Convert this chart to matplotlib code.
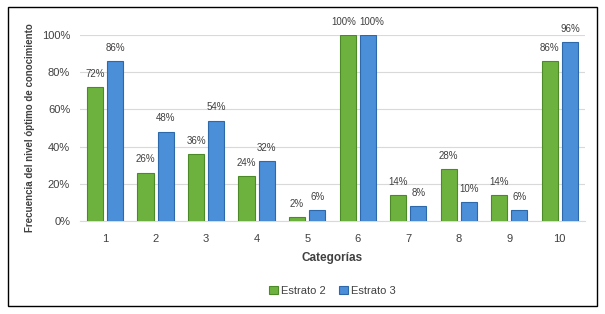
import matplotlib.pyplot as plt
import matplotlib.patches as mpatches
import numpy as np

categorias = [1, 2, 3, 4, 5, 6, 7, 8, 9, 10]
estrato2 = [72, 26, 36, 24, 2, 100, 14, 28, 14, 86]
estrato3 = [86, 48, 54, 32, 6, 100, 8, 10, 6, 96]
yticks = [0, 20, 40, 60, 80, 100]

font = ['Liberation Sans Narrow', 'Liberation Sans', 'DejaVu Sans']
plt.rcParams['font.family'] = font

fig = plt.figure(figsize=(6.05, 3.14), dpi=100)
ax = fig.add_axes([0.132, 0.296, 0.835, 0.593])

x = np.array(categorias)
w = 0.32
g = ax.bar(x - 0.2, estrato2, w, color='#6DB23F', edgecolor='#4C8A28', linewidth=0.8, label='Estrato 2', zorder=3)
b = ax.bar(x + 0.2, estrato3, w, color='#4B8FD8', edgecolor='#2C68AA', linewidth=0.8, label='Estrato 3', zorder=3)

# data labels; where both bars have the same height, push the labels apart a little
for side, bars, vals in ((-1, g, estrato2), (1, b, estrato3)):
    for i, (r, v) in enumerate(zip(bars, vals)):
        dx = 3 * side if estrato2[i] == estrato3[i] else 0
        ax.annotate(f'{v}%', (r.get_x() + r.get_width() / 2, v), xytext=(dx, 6),
                    textcoords='offset points', ha='center', va='bottom',
                    fontsize=7, color='#404040', annotation_clip=False)

ax.set_xlim(0.5, 10.5)
ax.set_ylim(0, 100)
ax.set_yticks(yticks)
ax.set_yticklabels([f'{t}%' for t in yticks])
ax.set_xticks(x)
ax.tick_params(axis='both', length=0, labelsize=8, colors='#404040')
ax.tick_params(axis='x', pad=9)
ax.tick_params(axis='y', pad=7)
ax.grid(axis='y', color='#D9D9D9', linewidth=0.8, zorder=0)
for s in ['top', 'right', 'left']:
    ax.spines[s].set_visible(False)
ax.spines['bottom'].set_color('#D9D9D9')

ax.set_xlabel('Categorías', fontsize=8.5, fontweight='bold', color='#404040', labelpad=6)
ax.set_ylabel('Frecuencia del nivel óptimo de conocimiento', fontsize=7, fontweight='bold',
              color='#404040', labelpad=5)

ax.legend(loc='upper center', bbox_to_anchor=(0.5, -0.295), ncol=2, frameon=False,
          fontsize=8, handlelength=0.8, handleheight=0.8, columnspacing=1.2, handletextpad=0.3,
          labelcolor='#404040')

fig.patches.append(mpatches.Rectangle((8 / 605, 8 / 314), 589 / 605, 299 / 314,
                                      transform=fig.transFigure, fill=False,
                                      edgecolor='black', linewidth=1))

fig.savefig('out.png', dpi=100)
